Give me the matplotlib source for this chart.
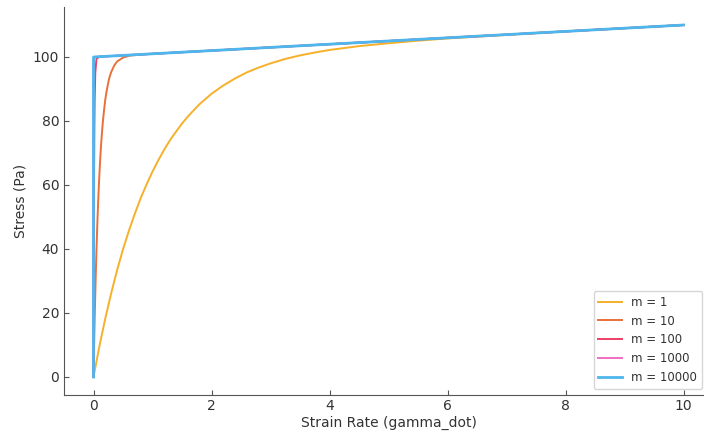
import matplotlib.pyplot as plt

# strain rate / stress samples for each regularisation parameter m
gamma_m1 = [0, 0.1, 0.2, 0.3, 0.4, 0.5, 0.6, 0.7, 0.8, 0.9, 1.0, 1.1, 1.2, 1.3, 1.4, 1.5,
            1.6, 1.7, 1.8, 1.9, 2.0, 2.2, 2.4, 2.6, 2.8, 3.0, 3.25, 3.5, 3.75, 4.0, 4.5,
            5.0, 5.5, 6.0, 7.0, 8.0, 9.0, 10.0]
stress_m1 = [0, 9.6, 18.3, 26.2, 33.4, 39.9, 45.7, 51.0, 55.9, 60.2, 64.2, 67.8, 71.1, 74.1, 76.7, 79.2,
             81.4, 83.4, 85.3, 86.9, 88.5, 91.1, 93.3, 95.2, 96.7, 98.0, 99.4, 100.5, 101.4, 102.2, 103.4,
             104.3, 105.1, 105.8, 106.9, 108.0, 109.0, 110.0]

gamma_m10 = [0, 0.01, 0.02, 0.03, 0.04, 0.05, 0.06, 0.07, 0.08, 0.09, 0.1, 0.115, 0.13, 0.145,
             0.16, 0.18, 0.2, 0.22, 0.25, 0.27, 0.3, 0.35, 0.4, 0.5, 0.6, 0.7, 1.0, 10.0]
stress_m10 = [0, 9.5, 18.2, 26.0, 33.0, 39.4, 45.2, 50.4, 55.2, 59.4, 63.3, 68.5, 72.9, 76.7,
              80.0, 83.6, 86.7, 89.1, 92.0, 93.6, 95.3, 97.3, 98.6, 99.8, 100.4, 100.6, 101.0, 110.0]

gamma_m100 = [0, 0.002, 0.005, 0.01, 0.015, 0.02, 0.03, 0.05, 0.1, 10.0]
stress_m100 = [0, 18.1, 39.3, 63.2, 77.7, 86.5, 95.0, 99.4, 100.1, 110.0]

gamma_m1000 = [0, 0.001, 0.002, 0.005, 0.01, 10.0]
stress_m1000 = [0, 63.2, 86.5, 99.3, 100.0, 110.0]

gamma_m10000 = [0, 0.0001, 0.0005, 0.001, 10.0]
stress_m10000 = [0, 63.2, 99.3, 100.0, 110.0]

labels = ["m = 1", "m = 10", "m = 100", "m = 1000", "m = 10000"]
colors = ["#F6B02A", "#E8703A", "#EE3F66", "#F06EC0", "#4DB6EC"]

series = [
    (gamma_m1, stress_m1),
    (gamma_m10, stress_m10),
    (gamma_m100, stress_m100),
    (gamma_m1000, stress_m1000),
    (gamma_m10000, stress_m10000),
]

text_color = "#333333"
plt.rcParams['font.family'] = ['DejaVu Sans']
plt.rcParams['font.size'] = 10

fig = plt.figure(figsize=(7.04, 4.32), dpi=100)
ax = fig.add_axes([64 / 704, 37.4 / 432, 649 / 704, 387.2 / 432])

for i, ((g, s), lab, c) in enumerate(zip(series, labels, colors)):
    # last curve drawn a bit wider so it covers the shared linear tail
    lw = 2.0 if i == len(series) - 1 else 1.4
    ax.plot(g, s, color=c, linewidth=lw, label=lab)

ax.set_xlim(-0.5, 10.5)
ax.set_ylim(-5.5, 115.5)
ax.set_xlabel("Strain Rate (gamma_dot)", color=text_color, labelpad=2)
ax.set_ylabel("Stress (Pa)", color=text_color)

for side in ["top", "right"]:
    ax.spines[side].set_visible(False)
for side in ["left", "bottom"]:
    ax.spines[side].set_color("#555555")
ax.tick_params(direction="in", colors="#555555", labelcolor=text_color, labelsize=10)

leg = ax.legend(loc="lower right", fontsize=8.5, frameon=True,
                bbox_to_anchor=(702 / 704, 43 / 432), bbox_transform=fig.transFigure,
                borderaxespad=0)
leg.get_frame().set_edgecolor("#cccccc")
for t in leg.get_texts():
    t.set_color(text_color)

plt.savefig("out.png", dpi=100)
